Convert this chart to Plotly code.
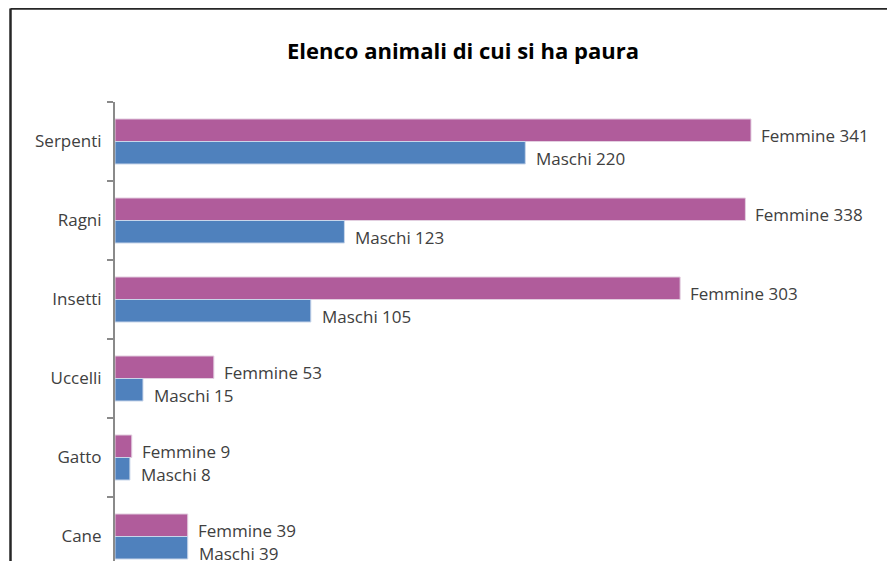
import plotly.graph_objects as go

categories = ["Serpenti", "Ragni", "Insetti", "Uccelli", "Gatto", "Cane"]
femmine = [341, 338, 303, 53, 9, 39]
maschi = [220, 123, 105, 15, 8, 39]
title_text = "Elenco animali di cui si ha paura"

FONT = "Open Sans"
C_F = "#b05c9b"
C_M = "#4f81bd"

fig = go.Figure()
fig.add_trace(go.Bar(y=categories, x=femmine, orientation="h", name="Femmine",
                     marker=dict(color=C_F, line=dict(color="#e3cfe0", width=1))))
fig.add_trace(go.Bar(y=categories, x=maschi, orientation="h", name="Maschi",
                     marker=dict(color=C_M, line=dict(color="#c9d6ea", width=1))))

# page body has an 8px margin: figure coords = screen coords - 8
OFF = 8
W, H = 895, 561
L, T = 115 - OFF, 102 - OFF
PW, PH = W - L, H - T
px_per_unit = 636 / 341.0

def px_to_paper_x(px):
    return (px - OFF - L) / PW

def px_to_paper_y(py):
    return 1 + (T - (py - OFF)) / PH

annotations = []
for cat, f, m in zip(categories, femmine, maschi):
    annotations.append(dict(x=f, y=cat, xref="x", yref="y", text=f"Femmine {f}",
                            showarrow=False, xanchor="left", yanchor="middle",
                            xshift=8, yshift=6,
                            font=dict(family=FONT, size=17, color="#404040")))
    annotations.append(dict(x=m, y=cat, xref="x", yref="y", text=f"Maschi {m}",
                            showarrow=False, xanchor="left", yanchor="middle",
                            xshift=9, yshift=-17,
                            font=dict(family=FONT, size=17, color="#404040")))

annotations.append(dict(x=px_to_paper_x(463), y=px_to_paper_y(50), xref="paper", yref="paper",
                        text=f"<b>{title_text}</b>", showarrow=False,
                        xanchor="center", yanchor="middle",
                        font=dict(family=FONT, size=22, color="#000000")))

bx = px_to_paper_x(10.5)
by = px_to_paper_y(8.5)
shapes = [
    dict(type="line", xref="paper", yref="paper", x0=bx, y0=-0.2, x1=bx, y1=by,
         line=dict(color="#262626", width=2.5)),
    dict(type="line", xref="paper", yref="paper", x0=bx, y0=by, x1=1.2, y1=by,
         line=dict(color="#262626", width=2.5)),
]

fig.update_layout(
    width=W, height=H,
    margin=dict(l=L, r=0, t=T, b=0, pad=0),
    paper_bgcolor="white", plot_bgcolor="white",
    barmode="group", bargap=0.43, bargroupgap=0,
    showlegend=False,
    annotations=annotations,
    shapes=shapes,
    xaxis=dict(visible=False, range=[0, PW / px_per_unit], fixedrange=True),
    yaxis=dict(type="category", categoryorder="array", categoryarray=categories,
               range=[-0.5 + PH / 79.0, -0.5],
               showline=True, linecolor="#8a8a8a", linewidth=2,
               ticks="outside", tickson="boundaries", ticklen=6, tickwidth=2,
               tickcolor="#8a8a8a", showgrid=False, zeroline=False,
               ticklabelstandoff=8,
               tickfont=dict(family=FONT, size=17, color="#404040")),
    font=dict(family=FONT),
)

fig.write_html("out.html")
